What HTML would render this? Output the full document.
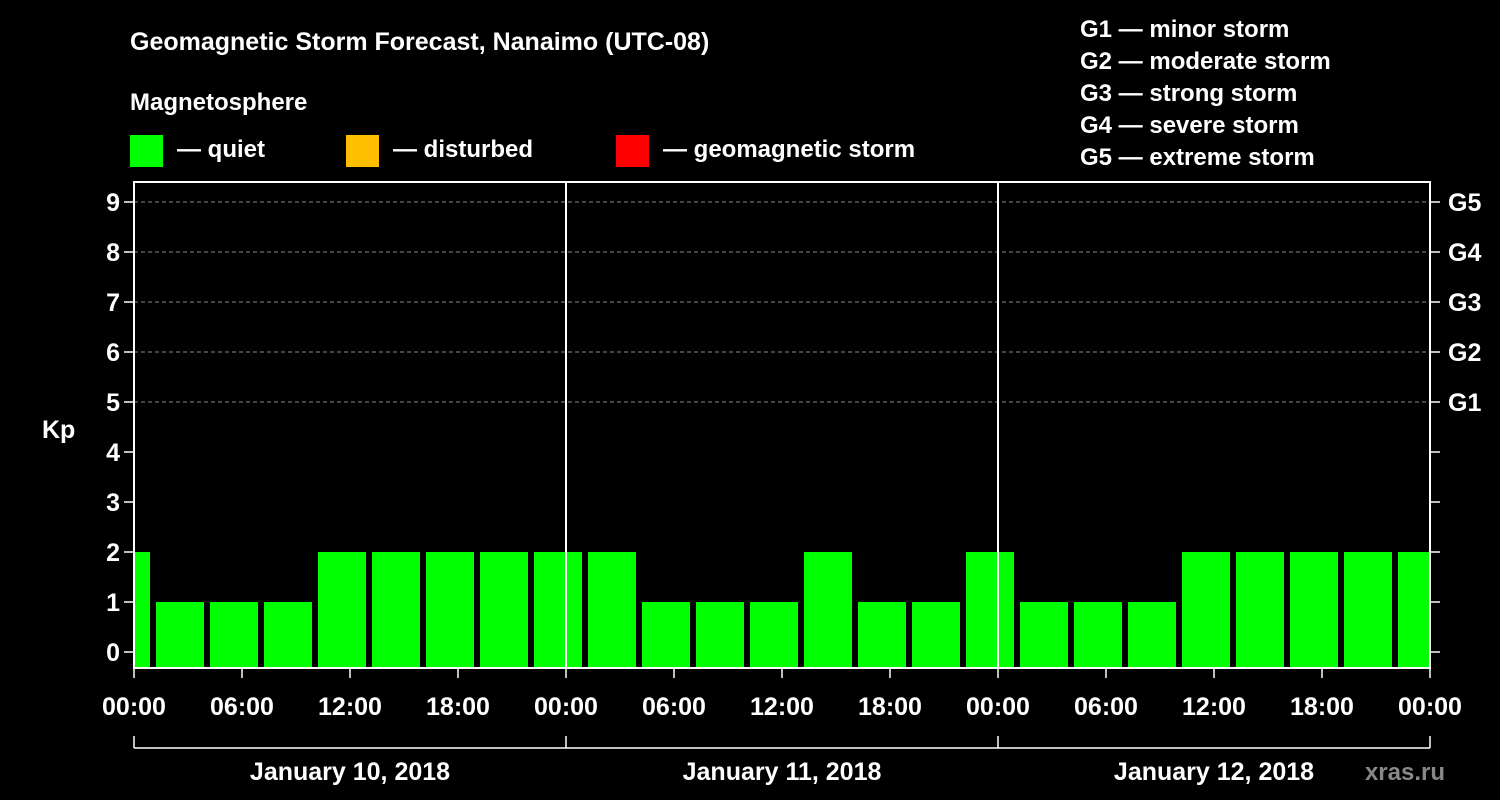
<!DOCTYPE html>
<html><head><meta charset="utf-8"><style>
html,body{margin:0;padding:0;background:#000;}
svg{display:block;font-family:"Liberation Sans",Arial,sans-serif;font-weight:bold;}
</style></head><body>
<svg id="chart" width="1500" height="800" viewBox="0 0 1500 800">
<rect x="0" y="0" width="1500" height="800" fill="#000"/>
<text x="130" y="50" fill="#fff" font-size="25">Geomagnetic Storm Forecast, Nanaimo (UTC-08)</text>
<text x="130" y="110" fill="#fff" font-size="24">Magnetosphere</text>
<g><rect x="130" y="135" width="33" height="32" fill="#00ff00"/><text x="177" y="157" fill="#fff" font-size="24">— quiet</text></g>
<g><rect x="346" y="135" width="33" height="32" fill="#ffbf00"/><text x="393" y="157" fill="#fff" font-size="24">— disturbed</text></g>
<g><rect x="616" y="135" width="33" height="32" fill="#ff0000"/><text x="663" y="157" fill="#fff" font-size="24">— geomagnetic storm</text></g>
<g fill="#fff" font-size="24">
<text x="1080" y="37">G1 — minor storm</text>
<text x="1080" y="69">G2 — moderate storm</text>
<text x="1080" y="101">G3 — strong storm</text>
<text x="1080" y="133">G4 — severe storm</text>
<text x="1080" y="165">G5 — extreme storm</text>
</g>
<text x="42" y="438" fill="#fff" font-size="25">Kp</text>
<g id="grid"></g><g id="bars"></g><g id="axes"></g>
<text x="1445" y="780" fill="#888" font-size="24" text-anchor="end">xras.ru</text>
</svg>
<script>
const kpValues=[2,1,1,1,2,2,2,2,2,2,1,1,1,2,1,1,2,1,1,1,2,2,2,2,2];
const yTicks=[0,1,2,3,4,5,6,7,8,9];
const gLabels=["G1","G2","G3","G4","G5"];
const gLevels=[5,6,7,8,9];
const xTickLabels=["00:00","06:00","12:00","18:00","00:00","06:00","12:00","18:00","00:00","06:00","12:00","18:00","00:00"];
const dayLabels=["January 10, 2018","January 11, 2018","January 12, 2018"];
const NS="http://www.w3.org/2000/svg";
const L=134,R=1430,T=182,B=668;
const y=v=>652-v*50;
const x=h=>L+h*18;
const startHour=-35/18;
function mk(tag,attrs,parent,text){const e=document.createElementNS(NS,tag);for(const k in attrs)e.setAttribute(k,attrs[k]);if(text!=null)e.textContent=text;parent.appendChild(e);return e;}
const grid=document.getElementById('grid'),bars=document.getElementById('bars'),axes=document.getElementById('axes');
gLevels.forEach(v=>{const l=mk('line',{x1:L,x2:R,y1:y(v),y2:y(v),stroke:'#888','stroke-dasharray':'4,3','stroke-width':1},grid);

});
kpValues.forEach((v,i)=>{let x0=x(startHour+i*3)+3,x1=x0+48;x0=Math.max(x0,L+1);x1=Math.min(x1,R-1);
const r=mk('rect',{x:x0,y:y(v),width:x1-x0,height:B-y(v),fill:v>=5?'#ff0000':(v>=4?'#ffbf00':'#00ff00')},bars);

});
mk('rect',{x:L,y:T,width:R-L,height:B-T,fill:'none',stroke:'#fff','stroke-width':2},axes);
[1,2].forEach(d=>{const l=mk('line',{x1:x(d*24),x2:x(d*24),y1:T,y2:B,stroke:'#fff','stroke-width':2},axes);

});
yTicks.forEach(v=>{mk('line',{x1:L-10,x2:L,y1:y(v),y2:y(v),stroke:'#fff','stroke-width':1.5},axes);
mk('line',{x1:R,x2:R+10,y1:y(v),y2:y(v),stroke:'#fff','stroke-width':1.5},axes);
const t=mk('text',{x:L-14,y:y(v)+9,fill:'#fff','font-size':25,'text-anchor':'end'},axes,String(v));

});
gLabels.forEach((g,i)=>{const t=mk('text',{x:R+18,y:y(gLevels[i])+9,fill:'#fff','font-size':25},axes,g);

});
xTickLabels.forEach((s,i)=>{const xx=x(i*6);mk('line',{x1:xx,x2:xx,y1:B,y2:B+10,stroke:'#fff','stroke-width':1.5},axes);
const t=mk('text',{x:xx,y:715,fill:'#fff','font-size':25,'text-anchor':'middle'},axes,s);

});
mk('line',{x1:L,x2:R,y1:748,y2:748,stroke:'#fff','stroke-width':1.5},axes);
[0,1,2,3].forEach(d=>mk('line',{x1:x(d*24),x2:x(d*24),y1:736,y2:748,stroke:'#fff','stroke-width':1.5},axes));
dayLabels.forEach((s,i)=>{const t=mk('text',{x:x(i*24+12),y:780,fill:'#fff','font-size':25,'text-anchor':'middle'},axes,s);

});
</script>
</body></html>
